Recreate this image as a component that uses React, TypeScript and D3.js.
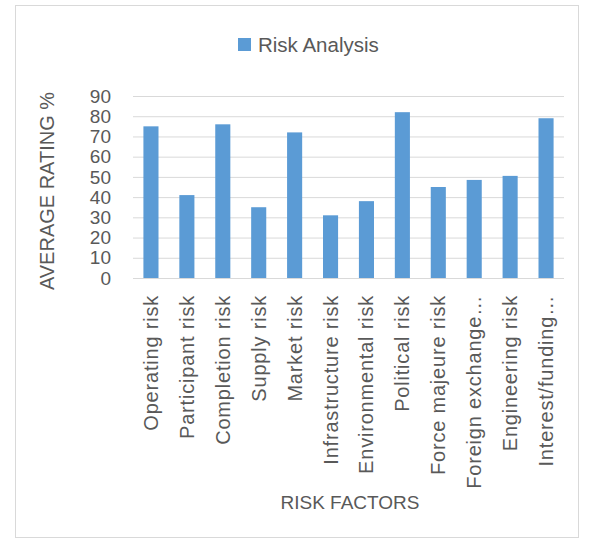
import { useEffect, useRef } from "react";
import * as d3 from "d3";

const categories = [
  "Operating risk",
  "Participant risk",
  "Completion risk",
  "Supply risk",
  "Market risk",
  "Infrastructure risk",
  "Environmental risk",
  "Political risk",
  "Force majeure risk",
  "Foreign exchange…",
  "Engineering risk",
  "Interest/funding…",
];
const values = [75, 41, 76, 35, 72, 31, 38, 82, 45, 48.5, 50.5, 79];
const yTicks = [0, 10, 20, 30, 40, 50, 60, 70, 80, 90];
const seriesName = "Risk Analysis";

const W = 590;
const H = 542;
const margin = { top: 96, right: 26, bottom: 262, left: 133 };
const FONT = "'Liberation Sans', Arial, sans-serif";
const TEXT = "#595959";
const BAR = "#5b9bd5";

export default function App() {
  const svgRef = useRef<SVGSVGElement | null>(null);

  useEffect(() => {
    if (!svgRef.current) return;
    const svg = d3.select(svgRef.current);
    svg.selectAll("*").remove();

    const x = d3
      .scaleBand<string>()
      .domain(categories)
      .range([margin.left, W - margin.right])
      .paddingInner(0.58)
      .paddingOuter(0.29);

    const y = d3
      .scaleLinear()
      .domain([0, 90])
      .range([H - margin.bottom - 2, margin.top]);

    // chart frame
    svg
      .append("rect")
      .attr("x", 15.5)
      .attr("y", 5.5)
      .attr("width", 563)
      .attr("height", 532)
      .attr("fill", "#fff")
      .attr("stroke", "#d9d9d9");

    // gridlines
    svg
      .append("g")
      .selectAll("line")
      .data(yTicks)
      .join("line")
      .attr("x1", margin.left)
      .attr("x2", W - margin.right)
      .attr("y1", (d) => y(d) + 0.5)
      .attr("y2", (d) => y(d) + 0.5)
      .attr("stroke", "#d9d9d9");

    // y tick labels
    svg
      .append("g")
      .selectAll("text")
      .data(yTicks)
      .join("text")
      .attr("x", 111)
      .attr("y", (d) => y(d))
      .attr("dy", "0.35em")
      .attr("text-anchor", "end")
      .attr("font-family", FONT)
      .attr("font-size", 19)
      .attr("fill", TEXT)
      .text((d) => d);

    // bars
    svg
      .append("g")
      .selectAll("rect")
      .data(values)
      .join("rect")
      .attr("x", (_, i) => x(categories[i])!)
      .attr("y", (d) => y(d))
      .attr("width", x.bandwidth())
      .attr("height", (d) => y(0) - y(d))
      .attr("fill", BAR);

    // x tick labels (rotated)
    svg
      .append("g")
      .selectAll("text")
      .data(categories)
      .join("text")
      .attr(
        "transform",
        (d) => `translate(${x(d)! + x.bandwidth() / 2},${y(0) + 17}) rotate(-90)`
      )
      .attr("dy", "0.35em")
      .attr("text-anchor", "end")
      .attr("font-family", FONT)
      .attr("font-size", 20)
      .attr("letter-spacing", 0.8)
      .attr("fill", TEXT)
      .text((d) => d);

    // y axis title
    svg
      .append("text")
      .attr("transform", `translate(47,${(y(0) + y(90)) / 2 + 4}) rotate(-90)`)
      .attr("dy", "0.35em")
      .attr("text-anchor", "middle")
      .attr("font-family", FONT)
      .attr("font-size", 20)
      .attr("fill", TEXT)
      .text("AVERAGE RATING %");

    // x axis title
    svg
      .append("text")
      .attr("x", 350)
      .attr("y", 502)
      .attr("dy", "0.35em")
      .attr("text-anchor", "middle")
      .attr("font-family", FONT)
      .attr("font-size", 19)
      .attr("fill", TEXT)
      .text("RISK FACTORS");

    // legend
    const legend = svg.append("g").attr("transform", "translate(238,38)");
    legend.append("rect").attr("width", 13).attr("height", 13).attr("fill", BAR);
    legend
      .append("text")
      .attr("x", 20)
      .attr("y", 7)
      .attr("dy", "0.35em")
      .attr("font-family", FONT)
      .attr("font-size", 20.5)
      .attr("fill", TEXT)
      .text(seriesName);
  }, []);

  return (
    <div style={{ position: "absolute", left: 0, top: 0 }}>
      <svg ref={svgRef} width={W} height={H} style={{ display: "block" }} />
    </div>
  );
}
